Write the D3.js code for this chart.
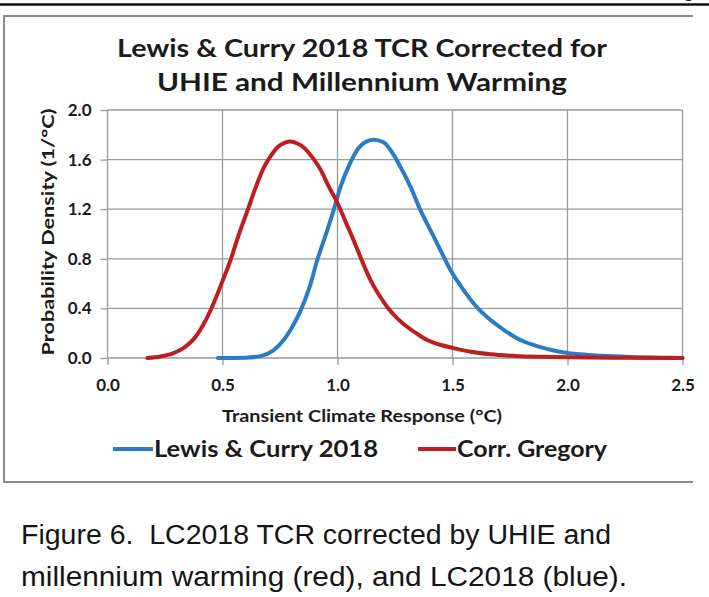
<!DOCTYPE html>
<html>
<head>
<meta charset="utf-8">
<script src="https://cdn.jsdelivr.net/npm/d3@7"></script>
<style>
  html, body { margin: 0; padding: 0; background: #fff; }
  svg { display: block; }
</style>
</head>
<body>
<svg id="chart" width="709" height="597"></svg>
<script>
// ---- Data ----
const titleLines = ["Lewis & Curry 2018 TCR Corrected for", "UHIE and Millennium Warming"];
const xTicks = [0.0, 0.5, 1.0, 1.5, 2.0, 2.5];
const yTicks = [0.0, 0.4, 0.8, 1.2, 1.6, 2.0];
const xLabel = "Transient Climate Response (°C)";
const yLabel = "Probability Density (1/°C)";
const seriesNames = ["Lewis & Curry 2018", "Corr. Gregory"];
const captionLines = ["Figure 6.  LC2018 TCR corrected by UHIE and", "millennium warming (red), and LC2018 (blue)."];

const lcX = [0.48, 0.6, 0.665, 0.72, 0.766, 0.8, 0.839, 0.88, 0.912, 0.95, 0.983, 1.013, 1.057, 1.09, 1.12, 1.157, 1.2, 1.24, 1.274, 1.32, 1.361, 1.418, 1.45, 1.491, 1.54, 1.592, 1.65, 1.709, 1.78, 1.852, 1.93, 2.0, 2.09, 2.174, 2.3, 2.4, 2.5];
const lcY = [0.0, 0.003, 0.015, 0.06, 0.145, 0.24, 0.38, 0.58, 0.79, 1.0, 1.19, 1.38, 1.58, 1.69, 1.74, 1.76, 1.74, 1.65, 1.54, 1.37, 1.19, 0.98, 0.86, 0.71, 0.57, 0.44, 0.33, 0.245, 0.16, 0.105, 0.065, 0.04, 0.025, 0.016, 0.007, 0.003, 0.0];

const grX = [0.174, 0.23, 0.287, 0.33, 0.374, 0.42, 0.461, 0.5, 0.535, 0.57, 0.609, 0.645, 0.678, 0.71, 0.739, 0.77, 0.796, 0.825, 0.852, 0.89, 0.926, 0.96, 1.0, 1.035, 1.07, 1.105, 1.143, 1.18, 1.217, 1.26, 1.304, 1.35, 1.39, 1.45, 1.504, 1.58, 1.665, 1.77, 1.883, 2.0, 2.2, 2.5];
const grY = [0.0, 0.012, 0.04, 0.08, 0.15, 0.28, 0.44, 0.62, 0.79, 0.99, 1.19, 1.38, 1.53, 1.63, 1.70, 1.735, 1.745, 1.73, 1.70, 1.62, 1.52, 1.39, 1.25, 1.10, 0.95, 0.79, 0.63, 0.51, 0.41, 0.32, 0.25, 0.19, 0.145, 0.105, 0.08, 0.05, 0.03, 0.017, 0.01, 0.006, 0.003, 0.0];

const colors = ["#2b7cc4", "#be1e22"];

// ---- Drawing ----
const svg = d3.select("#chart");
const textColor = "#1b1b1b";
const boldFont = "Lato, 'Open Sans', sans-serif";

svg.append("rect").attr("width", 709).attr("height", 597).attr("fill", "#fff");

// cut-off glyph (descender of a previous line) and thick rule at top
svg.append("text").attr("x", 683).attr("y", -3).attr("font-family", "Liberation Sans, Arial, sans-serif")
  .attr("font-size", 20).attr("fill", "#111").text("g");
svg.append("line").attr("x1", 0).attr("x2", 709).attr("y1", 4.5).attr("y2", 4.5)
  .attr("stroke", "#111").attr("stroke-width", 2.5);

// chart frame (left, top, bottom)
svg.append("path").attr("d", "M693,16 H4 V482 H693")
  .attr("fill", "none").attr("stroke", "#8c8c8c").attr("stroke-width", 2);

const x = d3.scaleLinear().domain([0, 2.5]).range([107.5, 682.5]);
const y = d3.scaleLinear().domain([0, 2.0]).range([358, 110]);

// gridlines
const g = svg.append("g");
g.selectAll(".hg").data(yTicks).join("line")
  .attr("x1", x(0)).attr("x2", x(2.5))
  .attr("y1", d => y(d)).attr("y2", d => y(d))
  .attr("stroke", "#9a9a9a").attr("stroke-width", 1.3);
g.selectAll(".vg").data(xTicks).join("line")
  .attr("x1", d => x(d)).attr("x2", d => x(d))
  .attr("y1", y(2.0)).attr("y2", y(0))
  .attr("stroke", "#9a9a9a").attr("stroke-width", 1.3);

// axes
const xAxis = d3.axisBottom(x).tickValues(xTicks).tickFormat(d3.format(".1f")).tickSize(7).tickPadding(14);
const yAxis = d3.axisLeft(y).tickValues(yTicks).tickFormat(d3.format(".1f")).tickSize(7).tickPadding(9);

const gx = svg.append("g").attr("transform", `translate(0,${y(0)})`).call(xAxis);
const gy = svg.append("g").attr("transform", `translate(${x(0)},0)`).call(yAxis);
[gx, gy].forEach(ax => {
  ax.attr("font-size", null).attr("font-family", null);
  ax.select(".domain").remove();
  ax.selectAll(".tick line").attr("stroke", "#9a9a9a").attr("stroke-width", 1.3);
  ax.selectAll(".tick text").attr("fill", textColor)
    .style("font-family", boldFont).style("font-weight", "bold").style("font-size", "17px");
});

// series
const line = d3.line().x(d => x(d[0])).y(d => y(d[1])).curve(d3.curveMonotoneX);
const lcData = lcX.map((v, i) => [v, lcY[i]]);
const grData = grX.map((v, i) => [v, grY[i]]);
svg.append("path").datum(lcData).attr("d", line).attr("fill", "none")
  .attr("stroke", colors[0]).attr("stroke-width", 4).attr("stroke-linejoin", "round").attr("stroke-linecap", "round");
svg.append("path").datum(grData).attr("d", line).attr("fill", "none")
  .attr("stroke", colors[1]).attr("stroke-width", 4).attr("stroke-linejoin", "round").attr("stroke-linecap", "round");

// title
const titleBase = [57, 91];
const titleLen = [490, 410];
titleLines.forEach((t, i) => {
  svg.append("text").attr("x", 362).attr("y", titleBase[i]).attr("text-anchor", "middle")
    .attr("font-family", boldFont).attr("font-weight", "bold").attr("font-size", 24)
    .attr("fill", textColor).attr("textLength", titleLen[i]).attr("lengthAdjust", "spacingAndGlyphs").text(t);
});

// axis titles
svg.append("text").attr("x", 362).attr("y", 422).attr("text-anchor", "middle")
  .attr("font-family", boldFont).attr("font-weight", "bold").attr("font-size", 17.5)
  .attr("fill", textColor).attr("textLength", 280).attr("lengthAdjust", "spacingAndGlyphs").text(xLabel);
svg.append("text").attr("transform", "translate(54,232) rotate(-90)").attr("text-anchor", "middle")
  .attr("font-family", boldFont).attr("font-weight", "bold").attr("font-size", 17.5)
  .attr("fill", textColor).attr("textLength", 247).attr("lengthAdjust", "spacingAndGlyphs").text(yLabel);

// legend
const legend = [
  {name: seriesNames[0], color: colors[0], x1: 113, x2: 153, tx: 154, tl: 224},
  {name: seriesNames[1], color: colors[1], x1: 418, x2: 456, tx: 457, tl: 150}
];
legend.forEach(l => {
  svg.append("line").attr("x1", l.x1).attr("x2", l.x2).attr("y1", 449).attr("y2", 449)
    .attr("stroke", l.color).attr("stroke-width", 4);
  svg.append("text").attr("x", l.tx).attr("y", 457).attr("font-family", boldFont)
    .attr("font-weight", "bold").attr("font-size", 22).attr("fill", textColor)
    .attr("textLength", l.tl).attr("lengthAdjust", "spacingAndGlyphs").text(l.name);
});

// caption
const capBase = [544, 586];
const capLen = [590, 606];
captionLines.forEach((t, i) => {
  svg.append("text").attr("x", 21).attr("y", capBase[i])
    .attr("font-family", "'Liberation Sans', Arial, sans-serif").attr("font-size", 27)
    .attr("fill", "#151515").attr("textLength", capLen[i]).attr("lengthAdjust", "spacingAndGlyphs")
    .attr("xml:space", "preserve").style("white-space", "pre").text(t);
});
</script>
</body>
</html>
